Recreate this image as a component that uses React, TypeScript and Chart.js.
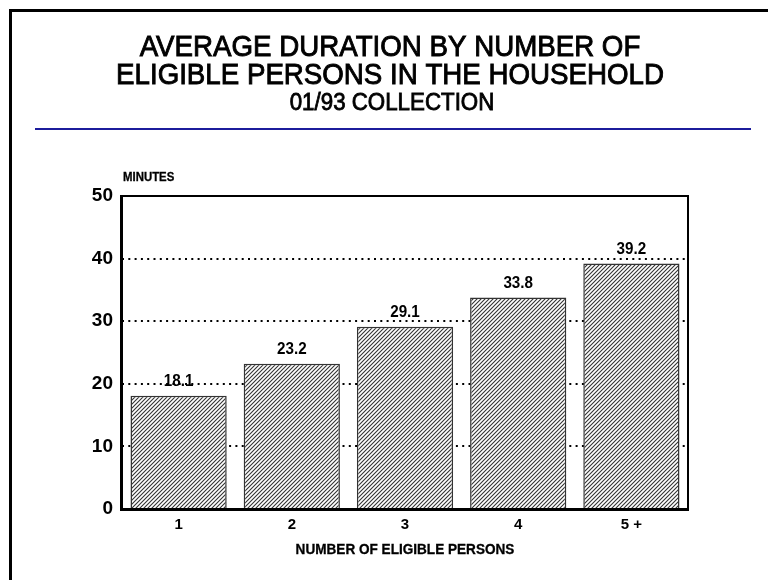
import React, { useEffect, useRef } from "react";
import { Chart, registerables } from "chart.js";

Chart.register(...registerables);

const categories = ["1", "2", "3", "4", "5 +"];
const minutes = [18.1, 23.2, 29.1, 33.8, 39.2];
const yTickValues = [0, 10, 20, 30, 40, 50];
const titleLines = ["AVERAGE DURATION BY NUMBER OF", "ELIGIBLE PERSONS IN THE HOUSEHOLD"];
const subtitle = "01/93 COLLECTION";
const yAxisLabel = "MINUTES";
const xAxisLabel = "NUMBER OF ELIGIBLE PERSONS";

const FONT = '"Liberation Sans", Arial, Helvetica, sans-serif';

function makeHatch(): CanvasPattern | string {
  const size = 4;
  const c = document.createElement("canvas");
  c.width = size;
  c.height = size;
  const g = c.getContext("2d");
  if (!g) return "#999";
  g.fillStyle = "#ffffff";
  g.fillRect(0, 0, size, size);
  g.strokeStyle = "#333333";
  g.lineWidth = 1.1;
  g.beginPath();
  g.moveTo(0, size);
  g.lineTo(size, 0);
  g.moveTo(-1, 1);
  g.lineTo(1, -1);
  g.moveTo(size - 1, size + 1);
  g.lineTo(size + 1, size - 1);
  g.stroke();
  const p = g.createPattern(c, "repeat");
  return p || "#999";
}

function heavyText(ctx: CanvasRenderingContext2D, text: string, x: number, y: number, font: string, sx: number, stroke: number) {
  ctx.save();
  ctx.translate(x, y);
  ctx.scale(sx, 1);
  ctx.font = font;
  ctx.fillText(text, 0, 0);
  if (stroke > 0) {
    ctx.lineWidth = stroke;
    ctx.strokeStyle = ctx.fillStyle as string;
    ctx.strokeText(text, 0, 0);
  }
  ctx.restore();
}

const decorPlugin = {
  id: "decor",
  beforeDraw(chart: any) {
    const { ctx, width, height } = chart;
    ctx.save();
    ctx.fillStyle = "#ffffff";
    ctx.fillRect(0, 0, width, height);
    // outer frame (left and top)
    ctx.fillStyle = "#000000";
    ctx.fillRect(9, 9, width - 9, 3);
    ctx.fillRect(9, 9, 3, height - 9);
    // titles
    ctx.textAlign = "center";
    ctx.textBaseline = "middle";
    ctx.fillStyle = "#000000";
    heavyText(ctx, titleLines[0], 390, 48, `29px ${FONT}`, 0.955, 0.9);
    heavyText(ctx, titleLines[1], 390, 76, `29px ${FONT}`, 0.955, 0.9);
    heavyText(ctx, subtitle, 392, 104, `23px ${FONT}`, 0.97, 0.8);
    // blue rule
    ctx.fillStyle = "#1c1c9c";
    ctx.fillRect(35, 128, 716, 2);
    ctx.restore();
  },
  afterDatasetsDraw(chart: any) {
    const { ctx, chartArea } = chart;
    const { left, right, top, bottom } = chartArea;
    ctx.save();
    // value labels
    ctx.fillStyle = "#000000";
    ctx.textAlign = "center";
    ctx.textBaseline = "bottom";
    const meta = chart.getDatasetMeta(0);
    meta.data.forEach((bar: any, i: number) => {
      heavyText(ctx, minutes[i].toFixed(1), bar.x, bar.y - 6, `bold 16px ${FONT}`, 0.95, 0);
    });
    // plot frame
    ctx.strokeStyle = "#000000";
    ctx.lineWidth = 2;
    ctx.beginPath();
    ctx.moveTo(left, top);
    ctx.lineTo(right, top);
    ctx.lineTo(right, bottom);
    ctx.stroke();
    ctx.fillStyle = "#000000";
    ctx.fillRect(left - 2, top - 1, 3, bottom - top + 2);
    ctx.fillRect(left - 2, bottom - 1, right - left + 3, 3);
    // axis labels
    ctx.textAlign = "left";
    ctx.textBaseline = "middle";
    heavyText(ctx, yAxisLabel, left + 1, top - 18, `bold 12px ${FONT}`, 0.95, 0.3);
    ctx.textAlign = "center";
    heavyText(ctx, xAxisLabel, (left + right) / 2, 550, `bold 14px ${FONT}`, 0.97, 0.3);
    ctx.restore();
  },
};

export default function App() {
  const ref = useRef<HTMLCanvasElement | null>(null);
  useEffect(() => {
    if (!ref.current) return;
    const hatch = makeHatch();
    const chart = new Chart(ref.current, {
      type: "bar",
      data: {
        labels: categories,
        datasets: [
          {
            data: minutes,
            backgroundColor: hatch as any,
            borderColor: "#333333",
            borderWidth: 1.5,
            categoryPercentage: 0.85,
            barPercentage: 1,
          },
        ],
      },
      options: {
        responsive: false,
        animation: false,
        devicePixelRatio: 1,
        layout: { padding: { left: 0, top: 196, right: 80, bottom: 0 } },
        plugins: {
          legend: { display: false },
          tooltip: { enabled: false },
          title: { display: false },
        },
        scales: {
          x: {
            grid: { display: false, drawTicks: false },
            border: { display: false },
            ticks: {
              color: "#000000",
              font: { family: FONT, size: 15, weight: "bold" },
              padding: 7,
            },
            afterFit: (s: any) => {
              s.height = 71;
            },
          },
          y: {
            min: 0,
            max: 50,
            afterBuildTicks: (s: any) => {
              s.ticks = yTickValues.map((v) => ({ value: v }));
            },
            grid: {
              drawTicks: false,
              lineWidth: 2,
              color: (c: any) =>
                c.tick && (c.tick.value === 0 || c.tick.value === 50) ? "rgba(0,0,0,0)" : "#000000",
            },
            border: { display: false, dash: [2, 4.3] },
            ticks: {
              color: "#000000",
              font: { family: FONT, size: 19, weight: "bold" },
              padding: 9,
            },
            afterFit: (s: any) => {
              s.width = 122;
            },
          },
        },
      },
      plugins: [decorPlugin],
    });
    return () => chart.destroy();
  }, []);
  return (
    <div style={{ position: "absolute", left: 0, top: 0, width: 768, height: 580 }}>
      <canvas ref={ref} width={768} height={580} style={{ width: 768, height: 580, display: "block" }} />
    </div>
  );
}
